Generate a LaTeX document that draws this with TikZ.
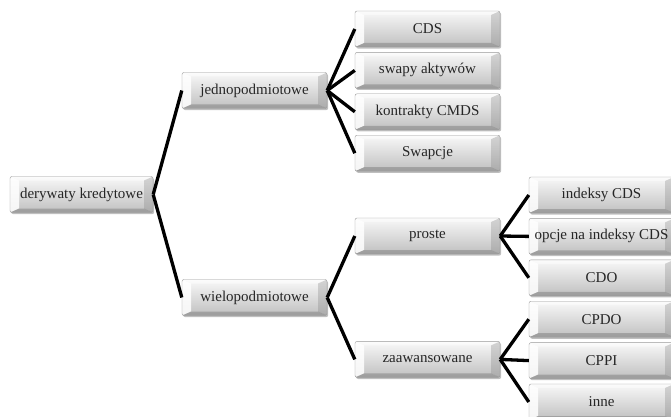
\documentclass[tikz,border=0pt]{standalone}
\usepackage{fontspec}
\setmainfont{Liberation Serif}
\usepackage{tikz}
\usetikzlibrary{positioning,calc,shadows}

\begin{document}
\begin{tikzpicture}[
  x=1pt, y=1pt,
  node distance=5pt and 28pt,
  btn/.style={rectangle, draw=gray!80, rounded corners=2pt, top color=gray!5, bottom color=gray!50,
    minimum width=145pt, minimum height=36pt, inner sep=0pt, font=\fontsize{15}{18}\selectfont,
    text=black!85,
    drop shadow={shadow xshift=1.2pt, shadow yshift=-1.6pt, opacity=.5},
    path picture={
      \fill[white, opacity=.85, sharp corners] (path picture bounding box.north west)
        -- ($(path picture bounding box.north west)+(9pt,-4pt)$)
        -- ($(path picture bounding box.south west)+(9pt,4pt)$)
        -- (path picture bounding box.south west) -- cycle;
      \fill[white, opacity=.45, sharp corners] (path picture bounding box.north west)
        -- (path picture bounding box.north east)
        -- ($(path picture bounding box.north east)+(-9pt,-4pt)$)
        -- ($(path picture bounding box.north west)+(9pt,-4pt)$) -- cycle;
      \fill[gray, opacity=.3, sharp corners] (path picture bounding box.north east)
        -- ($(path picture bounding box.north east)+(-9pt,-4pt)$)
        -- ($(path picture bounding box.south east)+(-9pt,4pt)$)
        -- (path picture bounding box.south east) -- cycle;
      \fill[black, opacity=.18, sharp corners] (path picture bounding box.south west)
        -- (path picture bounding box.south east)
        -- ($(path picture bounding box.south east)+(-9pt,4pt)$)
        -- ($(path picture bounding box.south west)+(9pt,4pt)$) -- cycle;
    }},
  conn/.style={line width=3.3pt, black}]

\useasboundingbox (0,0) rectangle (671,-417);

\node[btn, minimum width=143pt] (root) at (81.5,-194.5) {derywaty kredytowe};

\node[btn] (jedno) at (254.5,-90.5) {jednopodmiotowe};
\node[btn] (wielo) at (254.5,-297.5) {wielopodmiotowe};

\node[btn] (cds) at (427.5,-29) {CDS};
\node[btn, below=of cds] (swapy) {swapy aktywów};
\node[btn, below=of swapy] (cmds) {kontrakty CMDS};
\node[btn, below=of cmds] (swapcje) {Swapcje};

\node[btn] (proste) at (427.5,-236) {proste};
\node[btn, below=87pt of proste] (zaaw) {zaawansowane};

\node[btn] (indeksy) at (601.5,-195) {indeksy CDS};
\node[btn, below=of indeksy] (opcje) {opcje na indeksy CDS};
\node[btn, below=of opcje] (cdo) {CDO};
\node[btn, below=of cdo] (cpdo) {CPDO};
\node[btn, below=of cpdo] (cppi) {CPPI};
\node[btn, below=of cppi] (inne) {inne};

% Connectors
\draw[conn] (root.east) -- (jedno.west);
\draw[conn] (root.east) -- (wielo.west);

\draw[conn] (jedno.east) -- (cds.west);
\draw[conn] (jedno.east) -- (swapy.west);
\draw[conn] (jedno.east) -- (cmds.west);
\draw[conn] (jedno.east) -- (swapcje.west);

\draw[conn] (wielo.east) -- (proste.west);
\draw[conn] (wielo.east) -- (zaaw.west);

\draw[conn] (proste.east) -- (indeksy.west);
\draw[conn] (proste.east) -- (opcje.west);
\draw[conn] (proste.east) -- (cdo.west);

\draw[conn] (zaaw.east) -- (cpdo.west);
\draw[conn] (zaaw.east) -- (cppi.west);
\draw[conn] (zaaw.east) -- (inne.west);

\end{tikzpicture}
\end{document}
